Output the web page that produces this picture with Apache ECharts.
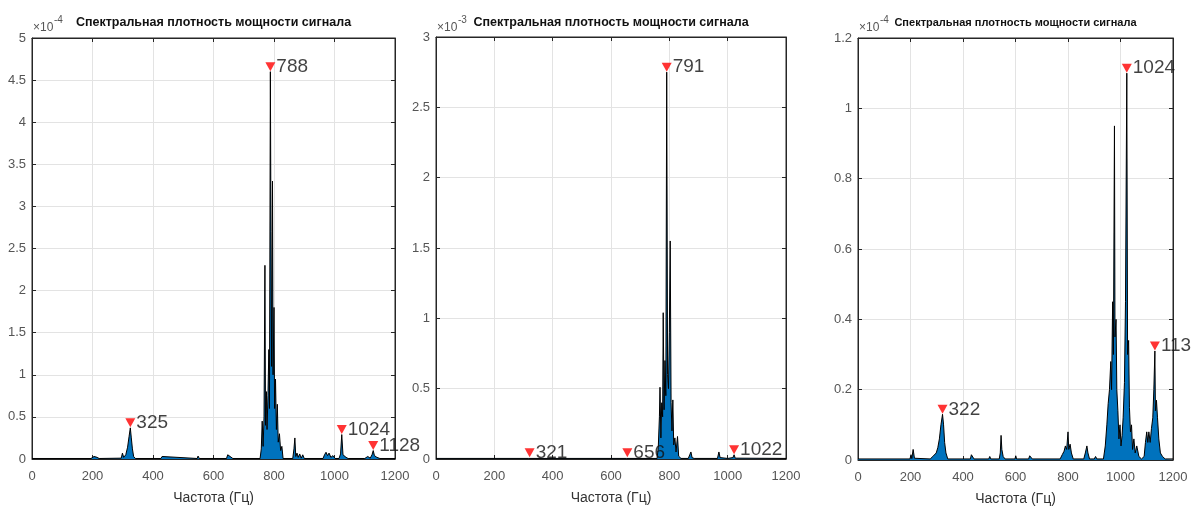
<!DOCTYPE html>
<html>
<head>
<meta charset="utf-8">
<script src="https://cdn.jsdelivr.net/npm/echarts@6/dist/echarts.min.js"></script>
<style>
html, body { margin: 0; padding: 0; background: #fff; }
#chart { width: 1192px; height: 511px; }
</style>
</head>
<body>
<div id="chart"></div>
<script>
// подписи
const titleText = 'Спектральная плотность мощности сигнала';
const xAxisName = 'Частота (Гц)';
const exponents = ['-4', '-3', '-4'];
const yMaxes = [5, 3, 1.2];
const ySteps = [0.5, 0.5, 0.2];

// спектр 1 (x 1e-4)
const spectrumA = [
  [0,0.006],[195,0.006],[205,0.03],[210,0.045],[215,0.02],[222,0.006],
  [295,0.01],[299,0.07],[303,0.02],[310,0.05],[316,0.14],[321,0.27],[325,0.37],[328,0.26],[332,0.12],[336,0.03],[342,0.006],
  [426,0.006],[430,0.03],[435,0.008],
  [546,0.006],[549,0.035],[553,0.006],
  [643,0.006],[647,0.05],[651,0.07],[655,0.03],[659,0.045],[664,0.006],
  [754,0.006],[758,0.12],[761,0.45],[764,0.15],[767,0.5],[770,2.3],[772,0.4],[775,0.8],[777,0.35],[780,0.75],[783,1.3],[785,0.6],
  [788,4.6],[790,2.7],[792,1.1],[795,3.3],[797,1.0],[800,1.8],[802,0.6],[805,0.95],[808,0.35],[811,0.65],[814,0.2],[818,0.3],[822,0.1],[826,0.15],[830,0.006],
  [862,0.006],[866,0.12],[869,0.25],[872,0.03],[876,0.07],[880,0.02],[885,0.06],[890,0.01],[895,0.05],[900,0.006],
  [962,0.006],[967,0.05],[972,0.08],[977,0.04],[982,0.07],[988,0.02],[995,0.04],[1002,0.006],
  [1015,0.006],[1020,0.06],[1024,0.29],[1028,0.05],[1033,0.07],[1038,0.02],[1045,0.006],
  [1100,0.006],[1110,0.03],[1118,0.01],[1124,0.05],[1128,0.1],[1132,0.04],[1140,0.02],[1150,0.006],[1200,0.006]
];
const peaksA = [[325,0.37],[788,4.6],[1024,0.29],[1128,0.1]];

// спектр 2 (x 1e-3)
const spectrumB = [
  [0,0.004],[318,0.004],[321,0.008],[324,0.004],[653,0.004],[656,0.008],[659,0.004],
  [758,0.004],[762,0.08],[766,0.3],[768,0.51],[771,0.15],[774,0.4],[777,0.3],[779,1.04],[782,0.35],[785,0.7],[788,0.45],
  [791,2.75],[794,0.6],[797,0.5],[800,0.9],[803,1.55],[806,0.4],[809,0.2],[812,0.42],[815,0.1],[819,0.15],[823,0.05],[828,0.16],[832,0.02],[840,0.004],
  [865,0.004],[870,0.03],[874,0.05],[878,0.01],[885,0.004],
  [965,0.004],[970,0.05],[974,0.01],[1000,0.004],[1018,0.01],[1022,0.03],[1026,0.006],[1200,0.004]
];
const peaksB = [[321,0.008],[656,0.008],[791,2.75],[1022,0.03]];

// спектр 3 (x 1e-4)
const spectrumC = [
  [0,0.003],[198,0.003],[202,0.015],[205,0.004],[210,0.03],[215,0.005],
  [275,0.003],[285,0.01],[292,0.006],[298,0.02],[304,0.035],[310,0.06],[316,0.1],[322,0.13],[326,0.1],[330,0.05],[335,0.02],[342,0.003],
  [428,0.003],[432,0.015],[437,0.01],[442,0.003],[498,0.003],[502,0.01],[506,0.003],
  [538,0.003],[542,0.02],[545,0.07],[548,0.03],[553,0.01],[560,0.003],[598,0.003],[601,0.012],[604,0.003],
  [650,0.003],[654,0.012],[660,0.012],[664,0.003],
  [770,0.003],[778,0.015],[785,0.025],[790,0.04],[795,0.03],[800,0.08],[803,0.03],[808,0.045],[813,0.02],[820,0.003],
  [860,0.003],[866,0.02],[872,0.04],[876,0.02],[882,0.003],[900,0.003],[905,0.01],[910,0.003],
  [935,0.003],[942,0.04],[948,0.1],[953,0.16],[958,0.2],[963,0.28],[966,0.2],[970,0.45],[973,0.3],[977,0.95],[979,0.35],[983,0.4],[986,0.2],
  [990,0.14],[994,0.06],[998,0.1],[1002,0.04],[1006,0.07],[1010,0.12],[1015,0.22],[1019,0.45],[1024,1.1],[1027,0.3],[1031,0.34],[1034,0.15],
  [1038,0.08],[1042,0.1],[1046,0.03],[1051,0.06],[1056,0.02],[1062,0.04],[1070,0.01],[1080,0.003],
  [1090,0.01],[1095,0.05],[1100,0.08],[1104,0.05],[1108,0.08],[1113,0.05],[1118,0.09],[1123,0.12],[1127,0.2],[1131,0.31],[1133,0.14],
  [1137,0.17],[1141,0.12],[1146,0.06],[1152,0.02],[1160,0.01],[1170,0.003],[1200,0.003]
];
const peaksC = [[322,0.13],[1024,1.1],[1131,0.31]];

const spectra = [spectrumA, spectrumB, spectrumC];
const peaks = [peaksA, peaksB, peaksC];

const font = "'Liberation Sans', Arial, sans-serif";
const gridBoxes = [
  { left: 32, top: 38, width: 363, height: 421 },
  { left: 436, top: 37, width: 350, height: 422 },
  { left: 858, top: 38, width: 315, height: 423 }
];
const titleSizes = [12.5, 12.5, 11];

const chart = echarts.init(document.getElementById('chart'));

const grid = [], xAxis = [], yAxis = [], series = [], graphic = [];
gridBoxes.forEach((g, i) => {
  grid.push(Object.assign({ show: true, borderColor: '#262626', borderWidth: 1, containLabel: false }, g));
  // нижняя ось
  xAxis.push({
    type: 'value', gridIndex: i, min: 0, max: 1200, interval: 200,
    name: xAxisName, nameLocation: 'middle', nameGap: 32,
    nameTextStyle: { fontFamily: font, fontSize: 14, color: '#333' },
    axisLine: { show: true, onZero: false, lineStyle: { color: '#262626' } },
    axisTick: { show: true, inside: true, length: 4, lineStyle: { color: '#262626' } },
    axisLabel: { fontFamily: font, fontSize: 13, color: '#555', margin: 11, formatter: v => String(v) },
    splitLine: { show: true, lineStyle: { color: '#e3e3e3' } }
  });
  // верхняя ось (зеркальные тики)
  xAxis.push({
    type: 'value', gridIndex: i, position: 'top', min: 0, max: 1200, interval: 200,
    axisLine: { show: true, onZero: false, lineStyle: { color: '#262626' } },
    axisTick: { show: true, inside: true, length: 4, lineStyle: { color: '#262626' } },
    axisLabel: { show: false }, splitLine: { show: false }
  });
  yAxis.push({
    type: 'value', gridIndex: i, min: 0, max: yMaxes[i], interval: ySteps[i],
    axisLine: { show: true, onZero: false, lineStyle: { color: '#262626' } },
    axisTick: { show: true, inside: true, length: 4, lineStyle: { color: '#262626' } },
    axisLabel: { fontFamily: font, fontSize: 13, color: '#555', margin: 6 },
    splitLine: { show: true, lineStyle: { color: '#e3e3e3' } }
  });
  yAxis.push({
    type: 'value', gridIndex: i, position: 'right', min: 0, max: yMaxes[i], interval: ySteps[i],
    axisLine: { show: true, onZero: false, lineStyle: { color: '#262626' } },
    axisTick: { show: true, inside: true, length: 4, lineStyle: { color: '#262626' } },
    axisLabel: { show: false }, splitLine: { show: false }
  });

  series.push({
    type: 'line', xAxisIndex: 2 * i, yAxisIndex: 2 * i,
    data: spectra[i], symbol: 'none', sampling: false,
    lineStyle: { color: '#000', width: 1 },
    areaStyle: { color: '#0072BD', opacity: 1, origin: 'start' },
    z: 2
  });
  series.push({
    type: 'scatter', xAxisIndex: 2 * i, yAxisIndex: 2 * i,
    data: peaks[i], symbol: 'triangle', symbolRotate: 180, symbolSize: [10, 9], symbolOffset: [0, -5],
    itemStyle: { color: '#ff0000' },
    label: {
      show: true, position: 'right', distance: 1,
      formatter: p => String(p.value[0]),
      fontFamily: font, fontSize: 19, color: '#111'
    },
    z: 5
  });

  const cx = g.left + g.width / 2;
  graphic.push({
    type: 'text', x: cx, y: 23,
    style: { text: titleText, font: 'bold ' + titleSizes[i] + 'px "Liberation Sans", Arial, sans-serif',
      fill: '#111', align: 'center', verticalAlign: 'middle' }
  });
  graphic.push({
    type: 'text', x: g.left + 1, y: 28,
    style: { text: '×10', font: '12px ' + font, fill: '#555', align: 'left', verticalAlign: 'middle' }
  });
  graphic.push({
    type: 'text', x: g.left + 22, y: 20,
    style: { text: exponents[i], font: '10px ' + font, fill: '#555', align: 'left', verticalAlign: 'middle' }
  });
});

chart.setOption({
  animation: false,
  backgroundColor: '#fff',
  grid, xAxis, yAxis, series, graphic
});
</script>
</body>
</html>
